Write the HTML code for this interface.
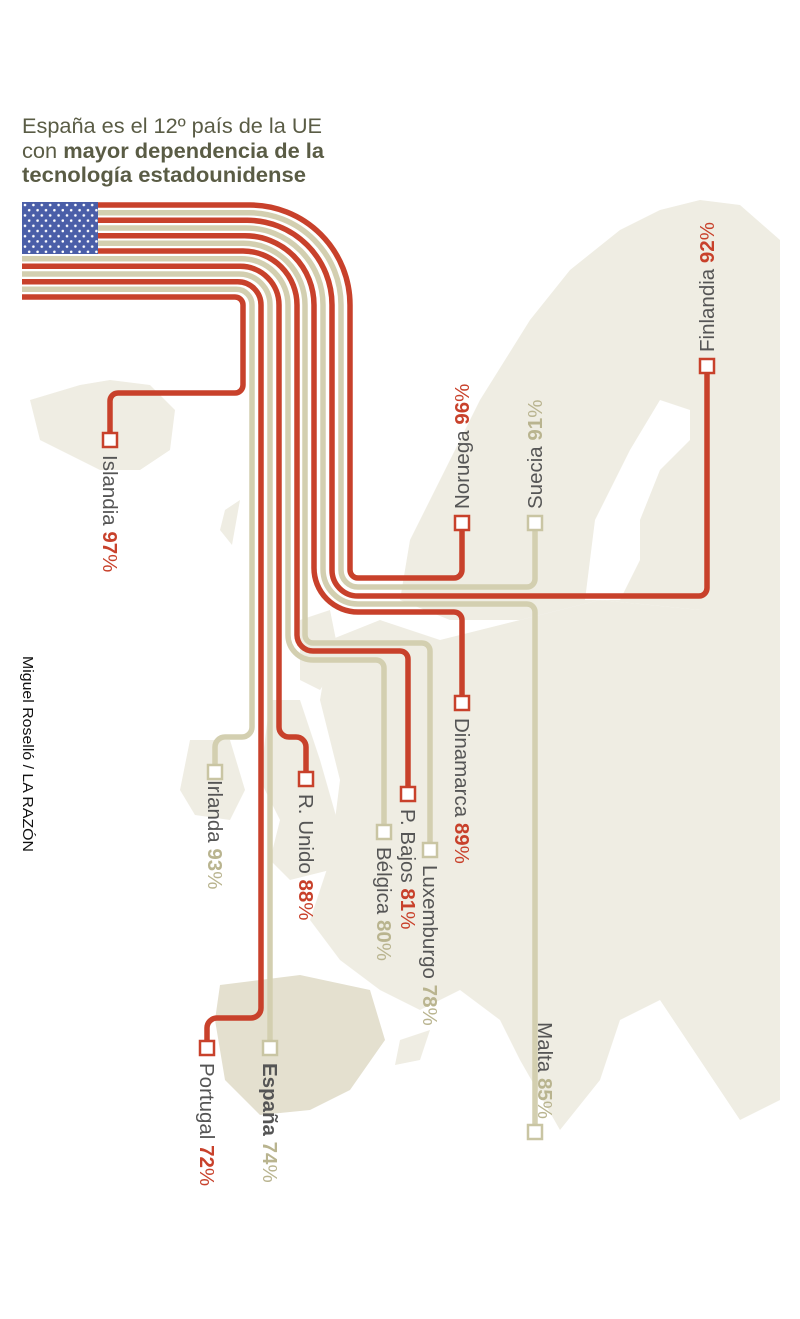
<!DOCTYPE html>
<html><head><meta charset="utf-8"><style>
html,body{margin:0;padding:0;background:#fff;}
svg{display:block;}
text{font-family:"Liberation Sans",sans-serif;}
</style></head><body>
<svg width="800" height="1319" viewBox="0 0 800 1319" xmlns="http://www.w3.org/2000/svg">
<defs>
<pattern id="st" x="22" y="202" width="8.4" height="10.4" patternUnits="userSpaceOnUse">
<circle cx="3" cy="3" r="1.3" fill="#fff"/><circle cx="7.2" cy="8.2" r="1.3" fill="#fff"/>
</pattern>
</defs>
<!-- map -->
<g fill="#efede3">
<polygon points="400,600 410,540 440,480 480,400 530,320 570,270 620,230 660,210 700,200 740,205 780,240 780,600 700,610 600,600 520,620 450,620"/>
<polygon points="330,640 380,620 440,640 520,620 600,600 700,610 780,560 780,1100 740,1120 700,1060 660,1000 620,1020 600,1080 560,1130 520,1060 500,1020 460,990 420,1010 380,990 340,960 310,920 330,860 340,780 320,700"/>
<polygon points="270,700 300,700 320,760 340,830 330,870 290,880 270,860 280,820 260,780"/>
<polygon points="190,740 230,740 245,790 230,820 195,815 180,790"/>
<polygon points="30,400 80,385 110,380 150,385 175,410 170,450 140,470 100,470 70,455 40,440"/>
<polygon points="225,510 240,500 232,545 220,530"/>
<polygon points="300,620 330,610 340,660 320,690 300,680"/>
<polygon points="400,1040 430,1030 420,1060 395,1065"/>
</g>
<polygon fill="#fff" points="585,600 595,520 630,450 660,400 690,410 690,440 660,470 640,520 640,560 620,600"/>
<polygon fill="#e4e0cf" points="220,985 300,975 370,990 385,1040 350,1090 310,1110 260,1115 225,1080 215,1020"/>
<!-- lines -->
<g fill="none" stroke-width="5.5">
<path stroke="#c8412b" d="M22,205 H250 A100,100 0 0 1 350,305 V570 A8,8 0 0 0 358,578 H454 A8,8 0 0 0 462,570 V530"/>
<path stroke="#d3cfb0" d="M22,212.7 H248.8 A92.3,92.3 0 0 1 341,305 V570 A17,17 0 0 0 358,587 H527 A8,8 0 0 0 535,579 V530"/>
<path stroke="#c8412b" d="M22,220.3 H247.3 A84.7,84.7 0 0 1 332,305 V570 A26,26 0 0 0 358,596 H699 A8,8 0 0 0 707,588 V373"/>
<path stroke="#d3cfb0" d="M22,228 H246 A77,77 0 0 1 323,305 V569 A35,35 0 0 0 358,604 H527 A8,8 0 0 1 535,612 V1125"/>
<path stroke="#c8412b" d="M22,235.7 H244.7 A69.3,69.3 0 0 1 314,305 V568 A44,44 0 0 0 358,612 H454 A8,8 0 0 1 462,620 V696"/>
<path stroke="#d3cfb0" d="M22,243.3 H243.3 A61.7,61.7 0 0 1 305,305 V635 A8,8 0 0 0 313,643 H422 A8,8 0 0 1 430,651 V843"/>
<path stroke="#c8412b" d="M22,251 H243 A54,54 0 0 1 297,305 V635 A16,16 0 0 0 313,651 H400 A8,8 0 0 1 408,659 V787"/>
<path stroke="#d3cfb0" d="M22,258.7 H241.7 A46.3,46.3 0 0 1 288,305 V635 A25,25 0 0 0 313,660 H376 A8,8 0 0 1 384,668 V825"/>
<path stroke="#c8412b" d="M22,266.3 H240.3 A38.7,38.7 0 0 1 279,305 V727 A10,10 0 0 0 289,737 H296 A10,10 0 0 1 306,747 V772"/>
<path stroke="#d3cfb0" d="M22,274 H239 A31,31 0 0 1 270,305 V1041"/>
<path stroke="#c8412b" d="M22,281.7 H237.7 A23.3,23.3 0 0 1 261,305 V1008 A10,10 0 0 1 251,1018 H217 A10,10 0 0 0 207,1028 V1041"/>
<path stroke="#d3cfb0" d="M22,289.3 H236.3 A15.7,15.7 0 0 1 252,305 V727 A10,10 0 0 1 242,737 H225 A10,10 0 0 0 215,747 V765"/>
<path stroke="#c8412b" d="M22,297 H235 A8,8 0 0 1 243,305 V385 A8,8 0 0 1 235,393 H118 A8,8 0 0 0 110,401 V433"/>
</g>
<!-- flag canton -->
<rect x="22" y="202" width="76" height="52" fill="#4a5ea8"/>
<rect x="22" y="202" width="76" height="52" fill="url(#st)"/>
<!-- boxes -->
<g fill="#fff" stroke-width="2.5">
<rect x="455" y="516" width="14" height="14" stroke="#c8412b"/>
<rect x="528" y="516" width="14" height="14" stroke="#c9c5a3"/>
<rect x="700" y="359" width="14" height="14" stroke="#c8412b"/>
<rect x="528" y="1125" width="14" height="14" stroke="#c9c5a3"/>
<rect x="455" y="696" width="14" height="14" stroke="#c8412b"/>
<rect x="423" y="843" width="14" height="14" stroke="#c9c5a3"/>
<rect x="401" y="787" width="14" height="14" stroke="#c8412b"/>
<rect x="377" y="825" width="14" height="14" stroke="#c9c5a3"/>
<rect x="299" y="772" width="14" height="14" stroke="#c8412b"/>
<rect x="263" y="1041" width="14" height="14" stroke="#c9c5a3"/>
<rect x="200" y="1041" width="14" height="14" stroke="#c8412b"/>
<rect x="208" y="765" width="14" height="14" stroke="#c9c5a3"/>
<rect x="103" y="433" width="14" height="14" stroke="#c8412b"/>
</g>
<!-- labels -->
<g font-size="20.5" fill="#555">
<text transform="translate(103,455) rotate(90)">Islandia <tspan font-weight="bold" fill="#c8412b">97</tspan><tspan fill="#c8412b">%</tspan></text>
<text transform="translate(208,780) rotate(90)">Irlanda <tspan font-weight="bold" fill="#b9b48f">93</tspan><tspan fill="#b9b48f">%</tspan></text>
<text transform="translate(299,794) rotate(90)">R. Unido <tspan font-weight="bold" fill="#c8412b">88</tspan><tspan fill="#c8412b">%</tspan></text>
<text transform="translate(377,847) rotate(90)">Bélgica <tspan font-weight="bold" fill="#b9b48f">80</tspan><tspan fill="#b9b48f">%</tspan></text>
<text transform="translate(401,809) rotate(90)">P. Bajos <tspan font-weight="bold" fill="#c8412b">81</tspan><tspan fill="#c8412b">%</tspan></text>
<text transform="translate(423,865) rotate(90)">Luxemburgo <tspan font-weight="bold" fill="#b9b48f">78</tspan><tspan fill="#b9b48f">%</tspan></text>
<text transform="translate(455,718) rotate(90)">Dinamarca <tspan font-weight="bold" fill="#c8412b">89</tspan><tspan fill="#c8412b">%</tspan></text>
<text transform="translate(200,1063) rotate(90)">Portugal <tspan font-weight="bold" fill="#c8412b">72</tspan><tspan fill="#c8412b">%</tspan></text>
<text transform="translate(263,1063) rotate(90)"><tspan font-weight="bold">España</tspan> <tspan font-weight="bold" fill="#b9b48f">74</tspan><tspan fill="#b9b48f">%</tspan></text>
<text transform="translate(538,1119) rotate(90)" text-anchor="end">Malta <tspan font-weight="bold" fill="#b9b48f">85</tspan><tspan fill="#b9b48f">%</tspan></text>
<text transform="translate(469,509) rotate(-90)">Noruega <tspan font-weight="bold" fill="#c8412b">96</tspan><tspan fill="#c8412b">%</tspan></text>
<text transform="translate(542,509) rotate(-90)">Suecia <tspan font-weight="bold" fill="#b9b48f">91</tspan><tspan fill="#b9b48f">%</tspan></text>
<text transform="translate(714,352) rotate(-90)">Finlandia <tspan font-weight="bold" fill="#c8412b">92</tspan><tspan fill="#c8412b">%</tspan></text>
</g>
<text transform="translate(23,656) rotate(90)" font-size="14.5" fill="#111" textLength="196" lengthAdjust="spacingAndGlyphs">Miguel Roselló / LA RAZÓN</text>
<!-- title -->
<g fill="#5a5c45" font-size="21">
<text x="22" y="133" textLength="300" lengthAdjust="spacingAndGlyphs">España es el 12º país de la UE</text>
<text x="22" y="158" textLength="302" lengthAdjust="spacingAndGlyphs">con <tspan font-weight="bold">mayor dependencia de la</tspan></text>
<text x="22" y="182" font-weight="bold" textLength="284" lengthAdjust="spacingAndGlyphs">tecnología estadounidense</text>
</g>
</svg>
</body></html>
